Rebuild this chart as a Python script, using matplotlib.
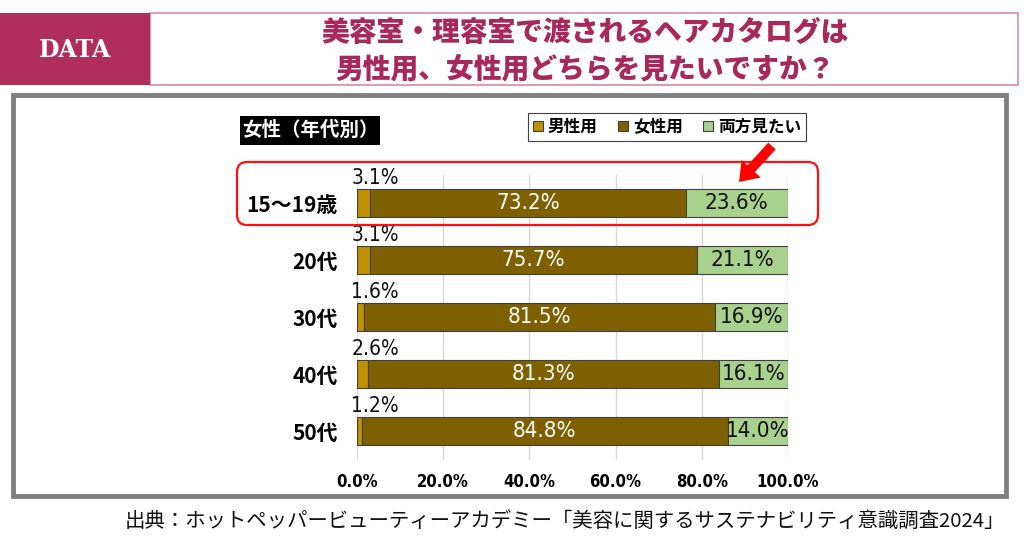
import matplotlib
matplotlib.use("Agg")
import matplotlib.pyplot as plt
from matplotlib.patches import Rectangle, FancyBboxPatch, FancyArrow

# Podaci sa grafikona (procenti po starosnoj grupi).
AGE_GROUPS = ["15～19歳", "20代", "30代", "40代", "50代"]
MALE_STYLE = [3.1, 3.1, 1.6, 2.6, 1.2]
FEMALE_STYLE = [73.2, 75.7, 81.5, 81.3, 84.8]
BOTH_STYLES = [23.6, 21.1, 16.9, 16.1, 14.0]
SERIES_LABELS = ["男性用", "女性用", "両方見たい"]
X_TICKS = [0, 20, 40, 60, 80, 100]

TITLE_LINES = ["美容室・理容室で渡されるヘアカタログは", "男性用、女性用どちらを見たいですか？"]
SOURCE = "出典：ホットペッパービューティーアカデミー「美容に関するサステナビリティ意識調査2024」"

COLORS = ["#BF9000", "#7F6000", "#A9D18E"]
PINK = "#B02E5C"
JP = ["Noto Sans CJK JP", "DejaVu Sans"]

W, H = 1024, 538


def px_axes(fig, left, top, right, bottom):
    """Pravi osu na osnovu piksel koordinata."""
    return fig.add_axes([left / W, 1 - bottom / H, (right - left) / W, (bottom - top) / H])


def num_font(size, weight="normal"):
    """Uzan font za procente."""
    return {"family": "DejaVu Sans", "stretch": "condensed", "size": size, "weight": weight}


fig = plt.figure(figsize=(W / 100, H / 100), dpi=100)

# Pozadina sa zaglavljem i okvirom (koordinate u pikselima).
bg = fig.add_axes([0, 0, 1, 1])
bg.set_xlim(0, W)
bg.set_ylim(H, 0)
bg.axis("off")
bg.add_patch(Rectangle((150, 13), 868, 72, facecolor="white", edgecolor="#D48AA6", linewidth=1.2))
bg.add_patch(Rectangle((0, 13), 150, 72, facecolor=PINK, edgecolor="none"))
bg.text(75, 50, "DATA", color="white", fontsize=17, fontweight="bold",
        family="DejaVu Serif", ha="center", va="center")
bg.text(585, 33, TITLE_LINES[0], color="#A8285A", fontsize=20, fontweight="heavy",
        family=JP, ha="center", va="center")
bg.text(585, 69, TITLE_LINES[1], color="#A8285A", fontsize=20, fontweight="heavy",
        family=JP, ha="center", va="center")
bg.add_patch(Rectangle((13, 95), 993, 401, facecolor="white", edgecolor="#808080", linewidth=3.5))
bg.text(1005, 521, SOURCE, fontsize=14.7, family=JP, ha="right", va="center", color="#111111")

# Grafikon sa slozenim stubicima.
ax = px_axes(fig, 357, 174.5, 788, 459.5)
positions = range(len(AGE_GROUPS))
left = [0] * len(AGE_GROUPS)
bars_all = []
for values, color, label in zip([MALE_STYLE, FEMALE_STYLE, BOTH_STYLES], COLORS, SERIES_LABELS):
    bars = ax.barh(list(positions), values, left=left, height=0.5, color=color,
                   edgecolor="#404040", linewidth=0.8, label=label, zorder=3)
    bars_all.append(bars)
    left = [a + b for a, b in zip(left, values)]

for i in positions:
    ax.text(4.2, i - 0.26, f"{MALE_STYLE[i]:.1f}%", fontproperties=num_font(15),
            ha="center", va="bottom", color="#111111", zorder=4)
    ax.text(MALE_STYLE[i] + FEMALE_STYLE[i] / 2, i, f"{FEMALE_STYLE[i]:.1f}%",
            fontproperties=num_font(16), ha="center", va="center", color="white", zorder=4)
    ax.text(MALE_STYLE[i] + FEMALE_STYLE[i] + BOTH_STYLES[i] / 2, i, f"{BOTH_STYLES[i]:.1f}%",
            fontproperties=num_font(16), ha="center", va="center", color="#111111", zorder=4)

ax.set_xlim(0, 100)
ax.set_ylim(len(AGE_GROUPS) - 0.5, -0.5)
ax.set_xticks(X_TICKS)
ax.set_xticklabels([f"{t:.1f}%" for t in X_TICKS], fontproperties=num_font(12, "bold"))
ax.set_yticks(list(positions))
ax.set_yticklabels(AGE_GROUPS, family=JP, fontsize=15, fontweight="bold")
ax.tick_params(axis="x", length=0, pad=10)
ax.tick_params(axis="y", length=0, pad=14)
ax.grid(axis="x", color="#D9D9D9", linewidth=1, zorder=0)
for spine in ax.spines.values():
    spine.set_visible(False)
ax.patch.set_alpha(0)

legend = ax.legend(handles=bars_all, ncol=3, loc="center",
                   bbox_to_anchor=(667 / W, 1 - 127 / H), bbox_transform=fig.transFigure,
                   prop={"family": JP, "weight": "bold", "size": 12},
                   handlelength=0.6, handleheight=0.6, handletextpad=0.3, columnspacing=1.2,
                   fancybox=False, edgecolor="#404040", borderpad=0.3, framealpha=1)
legend.get_frame().set_linewidth(0.8)

# Gornji sloj: oznaka grupe, crveni okvir i strelica.
top = fig.add_axes([0, 0, 1, 1])
top.set_xlim(0, W)
top.set_ylim(H, 0)
top.axis("off")
top.patch.set_alpha(0)
top.add_patch(Rectangle((240, 116), 140, 29, facecolor="black", edgecolor="none"))
top.text(310, 130.5, "女性（年代別）", color="white", fontsize=14, fontweight="bold",
         family=JP, ha="center", va="center")
top.add_patch(FancyBboxPatch((237, 162), 581, 63, boxstyle="round,pad=0,rounding_size=10",
                             facecolor="none", edgecolor="#FF1010", linewidth=1.6))
top.add_patch(FancyArrow(772, 146, -33, 36, width=10, head_width=26, head_length=18,
                         length_includes_head=True, color="#FF0000", linewidth=0))

fig.savefig("out.png", dpi=100)
